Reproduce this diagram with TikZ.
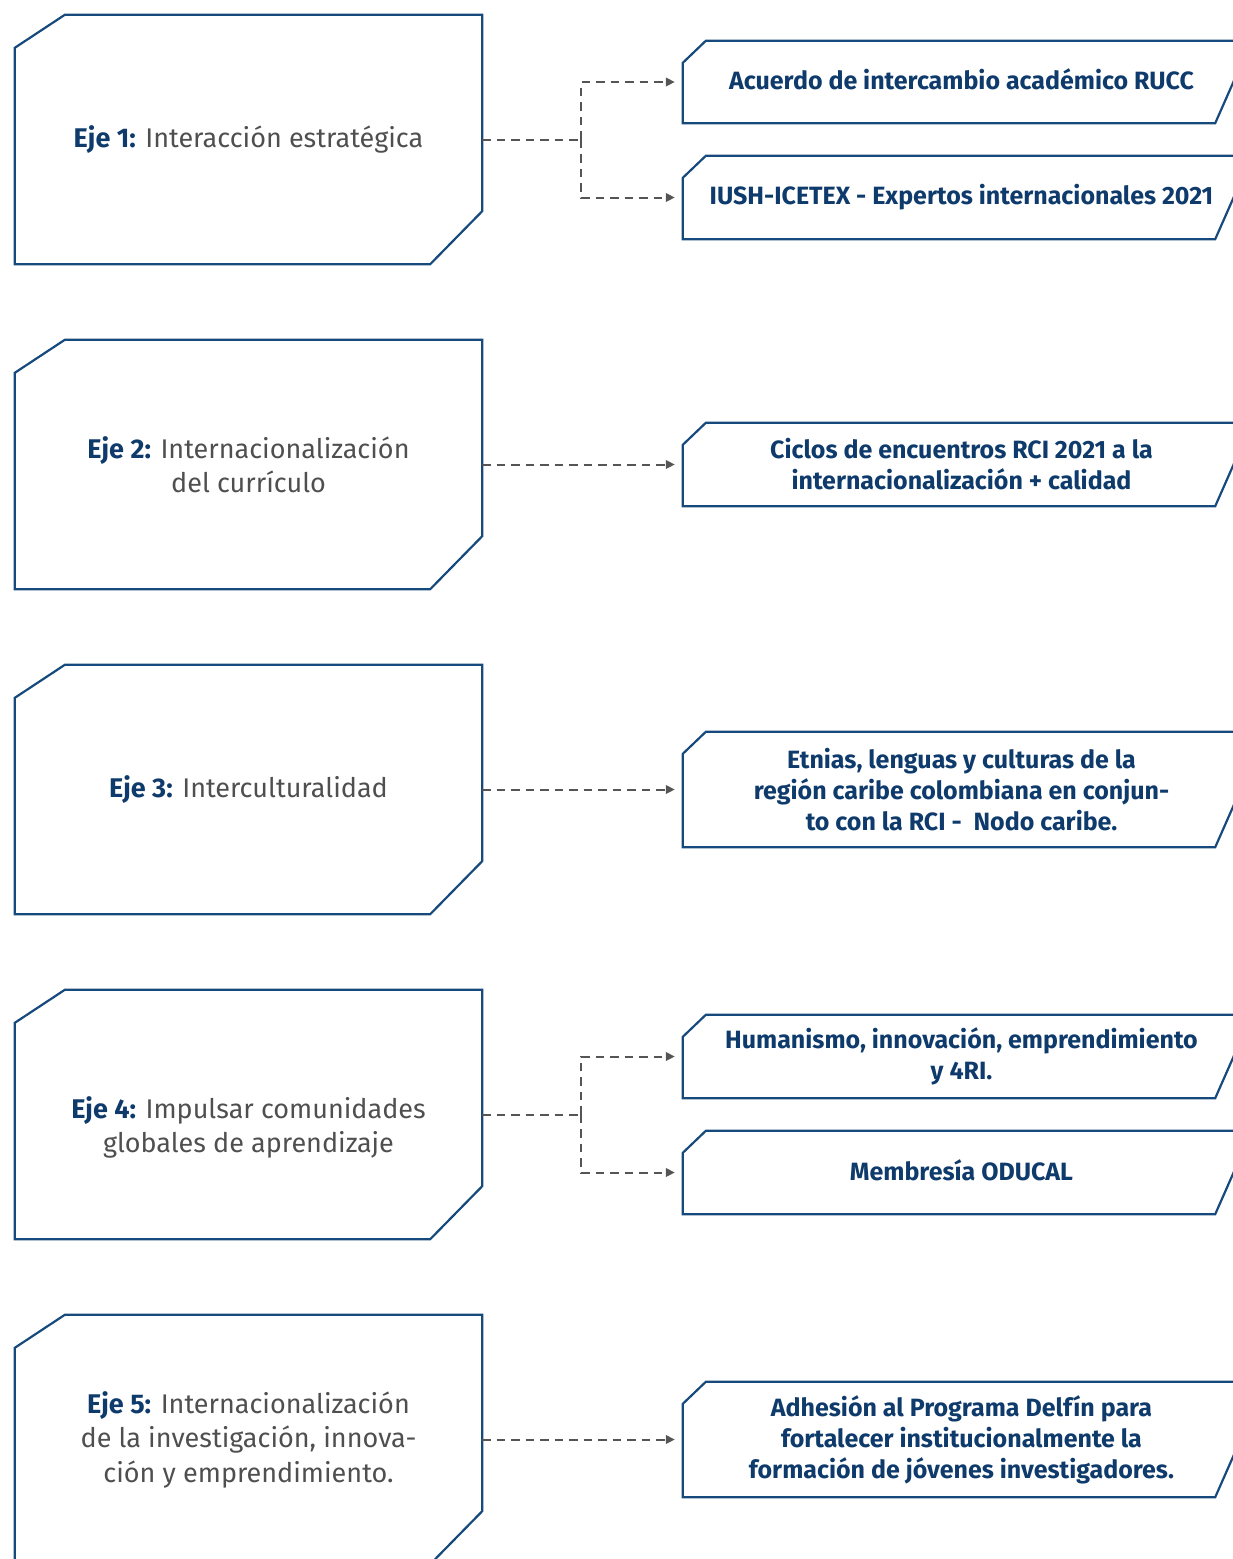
\documentclass[tikz,border=0pt]{standalone}
\usepackage{fontspec}
\setmainfont{Fira Sans}
\usetikzlibrary{arrows.meta,calc}
\definecolor{bord}{HTML}{174A7C}
\definecolor{navy}{HTML}{0E3B6B}
\definecolor{grayt}{HTML}{4F4F4F}
\definecolor{dashc}{HTML}{555555}
\newcommand\ej[1]{{\bfseries\color{navy}#1}}
\newcommand\leftshape[1]{\draw[bordline] ([yshift=-33pt]#1.north west) -- ([xshift=50pt]#1.north west) -- (#1.north east) -- ([yshift=53pt]#1.south east) -- ([xshift=-52pt]#1.south east) -- (#1.south west) -- cycle;}
\newcommand\rightshape[1]{\draw[bordline] ([xshift=-25pt]#1.south east) ++(45,-102) -- ([xshift=-25pt]#1.south east) -- (#1.south west) -- ([yshift=-22pt]#1.north west) -- ([xshift=23pt]#1.north west) -- ([xshift=60pt]#1.north east);}
\begin{document}
\begin{tikzpicture}[x=1pt,y=-1pt,
  bordline/.style={draw=bord, line width=2.2pt, line join=miter},
  lbox/.style={minimum width=467pt, minimum height=249pt, inner sep=0pt, align=center, text=grayt, font=\fontsize{27}{34.5}\selectfont},
  ltext/.style={inner sep=0pt, align=center, text=grayt, font=\fontsize{27}{34.5}\selectfont},
  rbox/.style={minimum width=557pt, inner sep=0pt, align=center, text=navy, font=\bfseries\fontsize{25}{31}\selectfont},
  conn/.style={draw=dashc, line width=2pt, dash pattern=on 8.5pt off 6pt},
  arr/.style={conn, -{Triangle[length=9pt,width=8.5pt]}, shorten >=8pt}
]
\useasboundingbox (0,0) rectangle (1233,1559);
\clip (0,0) rectangle (1233,1559);

% left boxes
\node[lbox] (e1) at (248.5,139.5) {\ej{Eje 1:} Interacción estratégica};
\node[lbox] (e2) at (248.5,464.5) {\ej{Eje 2:} Internacionalización\\del currículo};
\node[lbox] (e3) at (248.5,789.5) {\ej{Eje 3:} Interculturalidad};
\node[lbox] (e4) at (248.5,1114.5) {};
\node[ltext] (e4t) at (248.5,1127.5) {\ej{Eje 4:} Impulsar comunidades\\globales de aprendizaje};
\node[lbox] (e5) at (248.5,1439.5) {\ej{Eje 5:} Internacionalización\\de la investigación, innova-\\ción y emprendimiento.};
\foreach \n in {e1,e2,e3,e4,e5} {\leftshape{\n}}

% right boxes
\node[rbox, minimum height=82pt] (r1) at (961.5,82) {\raisebox{5pt}{Acuerdo de intercambio académico RUCC}};
\node[rbox, minimum height=83pt] (r2) at (961.5,197.5) {\raisebox{3pt}{IUSH-ICETEX - Expertos internacionales 2021}};
\node[rbox, minimum height=83pt] (r3) at (961.5,464.5) {Ciclos de encuentros RCI 2021 a la\\internacionalización + calidad};
\node[rbox, minimum height=115pt] (r4) at (961.5,789.5) {Etnias, lenguas y culturas de la\\región caribe colombiana en conjun-\\to con la RCI -\ \ Nodo caribe.};
\node[rbox, minimum height=83pt] (r5) at (961.5,1056.5) {Humanismo, innovación, emprendimiento\\y 4RI.};
\node[rbox, minimum height=83pt] (r6) at (961.5,1172.5) {\raisebox{5pt}{Membresía ODUCAL}};
\node[rbox, minimum height=115pt] (r7) at (961.5,1439.5) {Adhesión al Programa Delfín para\\fortalecer institucionalmente la\\formación de jóvenes investigadores.};
\foreach \n in {r1,r2,r3,r4,r5,r6,r7} {\rightshape{\n}}

% connectors
\coordinate (j1) at ($(e1.east)+(99,0)$);
\coordinate (j4) at ($(e4.east)+(99,0)$);
\draw[conn] (e1.east) -- (j1);
\draw[arr] (j1) |- (r1.west);
\draw[arr] (j1) |- (r2.west);
\draw[arr] (e2.east) -- (r3.west);
\draw[arr] (e3.east) -- (r4.west);
\draw[conn] (e4.east) -- (j4);
\draw[arr] (j4) |- (r5.west);
\draw[arr] (j4) |- (r6.west);
\draw[arr] (e5.east) -- (r7.west);
\end{tikzpicture}
\end{document}
